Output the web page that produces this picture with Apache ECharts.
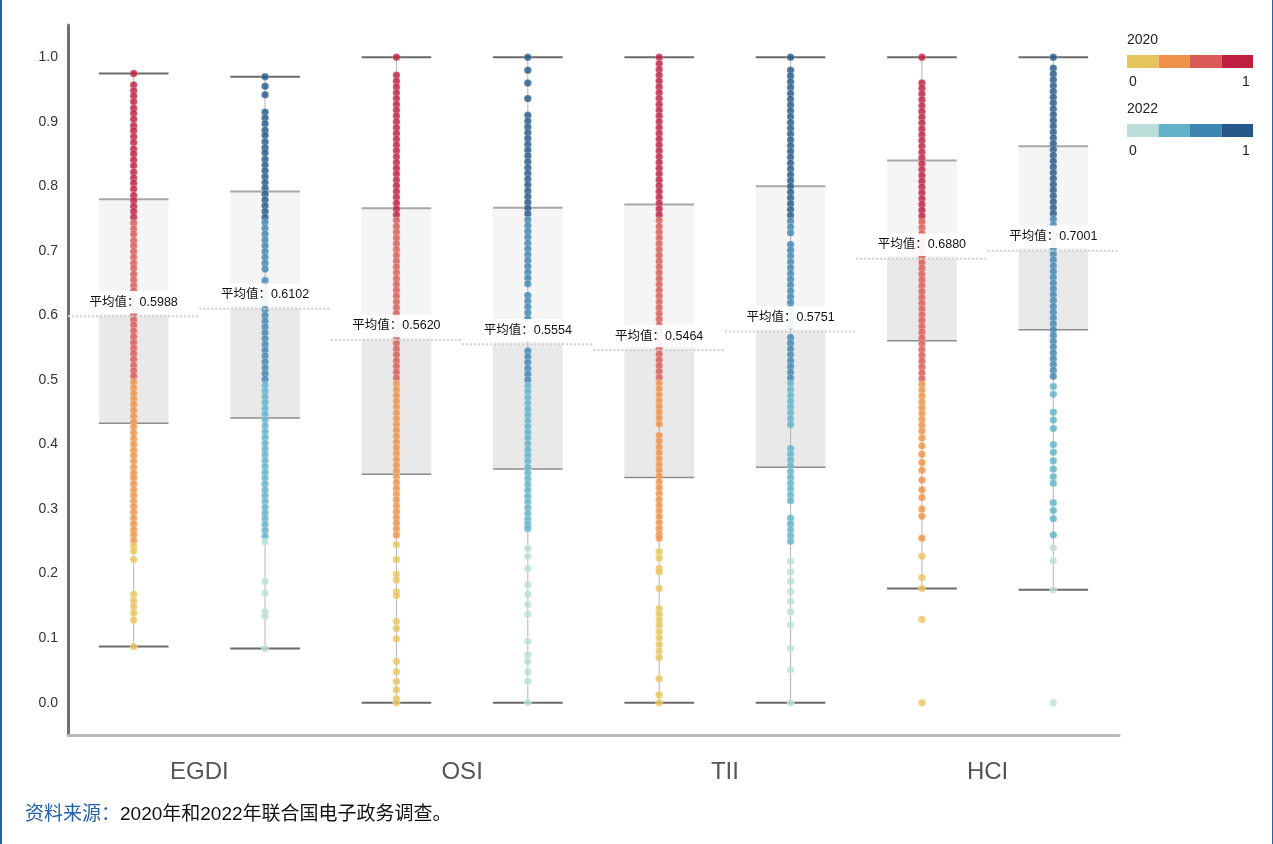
<!DOCTYPE html>
<html>
<head>
<meta charset="utf-8">
<script src="https://cdn.jsdelivr.net/npm/echarts@6/dist/echarts.min.js"></script>
<style>
  html, body { margin: 0; padding: 0; background: #fff; }
  #chart { width: 1273px; height: 844px; box-sizing: border-box; border-left: 2px solid #2b5fa6; border-right: 1px solid #2b5fa6; }
</style>
</head>
<body>
<div id="chart"></div>
<script>
// Index groups and survey years
const groupNames = ['EGDI', 'OSI', 'TII', 'HCI'];
const years = ['2020', '2022'];

// Box statistics per slot (EGDI-2020, EGDI-2022, OSI-2020, OSI-2022, TII-2020, TII-2022, HCI-2020, HCI-2022)
const whiskerLow  = [0.087, 0.084, 0.000, 0.000, 0.000, 0.000, 0.177, 0.175];
const quartile1   = [0.433, 0.441, 0.354, 0.362, 0.349, 0.365, 0.561, 0.578];
const quartile3   = [0.780, 0.792, 0.766, 0.767, 0.772, 0.800, 0.840, 0.862];
const whiskerHigh = [0.975, 0.970, 1.000, 1.000, 1.000, 1.000, 1.000, 1.000];
const meanValues  = [0.5988, 0.6102, 0.5620, 0.5554, 0.5464, 0.5751, 0.6880, 0.7001];

// Country scores per index and year
const egdi2020 = [0.975,0.957,0.948,0.94,0.931,0.921,0.913,0.904,0.894,0.886,0.877,0.868,0.858,0.85,0.841,0.832,0.822,0.813,0.805,0.796,0.786,0.778,0.769,0.761,0.752,0.743,0.734,0.726,0.716,0.708,0.699,0.69,0.681,0.673,0.664,0.655,0.646,0.638,0.628,0.62,0.611,0.602,0.593,0.585,0.576,0.567,0.558,0.549,0.541,0.532,0.523,0.514,0.506,0.497,0.488,0.479,0.47,0.462,0.453,0.444,0.435,0.427,0.418,0.409,0.4,0.391,0.383,0.374,0.365,0.356,0.348,0.339,0.33,0.321,0.312,0.304,0.295,0.286,0.277,0.268,0.26,0.251,0.243,0.235,0.222,0.168,0.158,0.149,0.139,0.128,0.087];
const egdi2022 = [0.97,0.955,0.942,0.915,0.906,0.897,0.887,0.879,0.869,0.86,0.852,0.842,0.833,0.824,0.815,0.806,0.797,0.788,0.779,0.77,0.761,0.752,0.744,0.735,0.726,0.717,0.708,0.699,0.69,0.681,0.672,0.654,0.645,0.636,0.627,0.618,0.609,0.6,0.591,0.582,0.573,0.564,0.555,0.546,0.537,0.528,0.519,0.51,0.501,0.492,0.483,0.474,0.465,0.456,0.447,0.438,0.429,0.42,0.411,0.402,0.393,0.384,0.375,0.366,0.357,0.348,0.339,0.33,0.321,0.312,0.303,0.294,0.285,0.276,0.267,0.258,0.249,0.188,0.17,0.141,0.134,0.084];
const osi2020 = [1.0,0.972,0.963,0.954,0.945,0.936,0.927,0.918,0.909,0.9,0.891,0.882,0.873,0.864,0.855,0.846,0.837,0.828,0.819,0.81,0.801,0.792,0.783,0.774,0.765,0.756,0.747,0.738,0.729,0.72,0.711,0.702,0.693,0.684,0.675,0.666,0.657,0.648,0.639,0.63,0.621,0.612,0.603,0.594,0.585,0.576,0.567,0.557,0.548,0.539,0.53,0.521,0.512,0.503,0.494,0.485,0.476,0.467,0.458,0.449,0.44,0.431,0.422,0.413,0.404,0.395,0.386,0.377,0.368,0.359,0.35,0.341,0.332,0.323,0.314,0.305,0.296,0.287,0.278,0.269,0.26,0.245,0.222,0.199,0.19,0.172,0.166,0.126,0.115,0.099,0.064,0.048,0.033,0.02,0.006,0.0];
const osi2022 = [1.0,0.98,0.96,0.936,0.91,0.901,0.892,0.883,0.874,0.865,0.856,0.847,0.838,0.829,0.82,0.811,0.802,0.793,0.784,0.775,0.766,0.757,0.748,0.739,0.73,0.721,0.712,0.703,0.694,0.685,0.676,0.667,0.658,0.649,0.631,0.622,0.613,0.604,0.595,0.545,0.536,0.527,0.518,0.509,0.5,0.491,0.482,0.473,0.464,0.455,0.446,0.437,0.428,0.419,0.41,0.401,0.392,0.383,0.374,0.365,0.356,0.347,0.338,0.329,0.32,0.311,0.302,0.293,0.284,0.276,0.27,0.239,0.227,0.208,0.183,0.168,0.152,0.137,0.095,0.074,0.064,0.048,0.033,0.0];
const tii2020 = [1.0,0.99,0.981,0.972,0.963,0.954,0.945,0.936,0.927,0.918,0.909,0.9,0.891,0.882,0.873,0.864,0.855,0.846,0.837,0.828,0.819,0.81,0.801,0.792,0.783,0.774,0.765,0.756,0.747,0.738,0.729,0.72,0.711,0.702,0.693,0.684,0.675,0.666,0.657,0.648,0.639,0.63,0.621,0.612,0.603,0.594,0.585,0.576,0.567,0.558,0.549,0.54,0.531,0.522,0.513,0.504,0.495,0.486,0.477,0.468,0.459,0.45,0.441,0.432,0.414,0.405,0.396,0.387,0.378,0.369,0.36,0.351,0.342,0.333,0.324,0.315,0.306,0.297,0.288,0.279,0.27,0.261,0.255,0.234,0.224,0.208,0.203,0.177,0.146,0.137,0.128,0.12,0.11,0.1,0.09,0.08,0.07,0.037,0.012,0.0];
const tii2022 = [1.0,0.98,0.971,0.962,0.953,0.944,0.935,0.926,0.917,0.908,0.899,0.89,0.881,0.872,0.863,0.854,0.845,0.836,0.827,0.818,0.809,0.8,0.791,0.782,0.773,0.764,0.755,0.746,0.737,0.728,0.71,0.701,0.692,0.683,0.674,0.665,0.656,0.647,0.638,0.629,0.62,0.611,0.602,0.593,0.584,0.566,0.557,0.548,0.539,0.53,0.521,0.512,0.503,0.494,0.485,0.476,0.467,0.458,0.449,0.44,0.431,0.394,0.385,0.376,0.367,0.358,0.349,0.34,0.331,0.322,0.313,0.286,0.277,0.268,0.259,0.25,0.219,0.203,0.188,0.172,0.157,0.141,0.121,0.084,0.051,0.0];
const hci2020 = [1.0,0.96,0.952,0.943,0.934,0.925,0.916,0.907,0.898,0.889,0.88,0.871,0.862,0.853,0.844,0.835,0.826,0.817,0.808,0.799,0.79,0.781,0.772,0.763,0.754,0.745,0.736,0.727,0.718,0.709,0.7,0.691,0.682,0.673,0.664,0.655,0.646,0.637,0.628,0.619,0.61,0.601,0.592,0.583,0.574,0.565,0.556,0.547,0.538,0.529,0.52,0.511,0.502,0.493,0.484,0.475,0.466,0.457,0.448,0.439,0.43,0.421,0.41,0.398,0.385,0.372,0.36,0.345,0.33,0.318,0.3,0.289,0.255,0.227,0.194,0.177,0.129,0.0];
const hci2022 = [1.0,0.983,0.974,0.965,0.956,0.947,0.938,0.929,0.92,0.911,0.902,0.893,0.884,0.875,0.866,0.857,0.848,0.839,0.83,0.821,0.812,0.803,0.794,0.785,0.776,0.767,0.758,0.749,0.74,0.731,0.722,0.713,0.704,0.695,0.686,0.677,0.668,0.659,0.65,0.641,0.632,0.623,0.614,0.605,0.596,0.587,0.578,0.569,0.56,0.551,0.542,0.533,0.524,0.515,0.506,0.49,0.478,0.45,0.438,0.425,0.4,0.388,0.375,0.362,0.35,0.34,0.31,0.298,0.285,0.26,0.24,0.22,0.175,0.0];

// Colour scales for the two years
const colors2020 = ['#e6c45c', '#ee9348', '#d95a57', '#bf1f3f'];
const colors2022 = ['#bcded8', '#62b2c9', '#3e85b2', '#255889'];

const scores2020 = [egdi2020, osi2020, tii2020, hci2020];
const scores2022 = [egdi2022, osi2022, tii2022, hci2022];

const slotNames = [];
groupNames.forEach(g => years.forEach(y => slotNames.push(g + ' ' + y)));

const boxData = slotNames.map((_, i) => [i, whiskerLow[i], quartile1[i], meanValues[i], quartile3[i], whiskerHigh[i]]);
const meanData = slotNames.map((_, i) => [i, meanValues[i]]);

function toPoints(list, yearIndex) {
  const pts = [];
  list.forEach((vals, g) => vals.forEach(v => pts.push([g * 2 + yearIndex, v])));
  return pts;
}

function pieces(colors) {
  return [
    { gte: 0, lt: 0.25, color: colors[0] },
    { gte: 0.25, lt: 0.5, color: colors[1] },
    { gte: 0.5, lt: 0.75, color: colors[2] },
    { gte: 0.75, lte: 1, color: colors[3] }
  ];
}

const FONT = '"Liberation Sans", "Noto Sans CJK SC", sans-serif';

function renderBox(params, api) {
  const slot = api.value(0);
  const lo = api.value(1), q1 = api.value(2), mean = api.value(3), q3 = api.value(4), hi = api.value(5);
  const w = api.size([1, 0])[0] * 0.53;
  const pHi = api.coord([slot, hi]);
  const pLo = api.coord([slot, lo]);
  const pQ3 = api.coord([slot, q3]);
  const pQ1 = api.coord([slot, q1]);
  const pM = api.coord([slot, mean]);
  const x = pHi[0];
  return {
    type: 'group',
    children: [
      { type: 'rect', shape: { x: x - w / 2, y: pQ3[1], width: w, height: pM[1] - pQ3[1] }, style: { fill: '#f5f5f5' } },
      { type: 'rect', shape: { x: x - w / 2, y: pM[1], width: w, height: pQ1[1] - pM[1] }, style: { fill: '#e9e9e9' } },
      { type: 'line', shape: { x1: x, y1: pHi[1], x2: x, y2: pLo[1] }, style: { stroke: '#b4b4b4', lineWidth: 1 } },
      { type: 'line', shape: { x1: x - w / 2, y1: pQ3[1], x2: x + w / 2, y2: pQ3[1] }, style: { stroke: '#a8a8a8', lineWidth: 2 } },
      { type: 'line', shape: { x1: x - w / 2, y1: pQ1[1], x2: x + w / 2, y2: pQ1[1] }, style: { stroke: '#8c8c8c', lineWidth: 1.5 } },
      { type: 'line', shape: { x1: x - w / 2, y1: pHi[1], x2: x + w / 2, y2: pHi[1] }, style: { stroke: '#6a6a6a', lineWidth: 2 } },
      { type: 'line', shape: { x1: x - w / 2, y1: pLo[1], x2: x + w / 2, y2: pLo[1] }, style: { stroke: '#6a6a6a', lineWidth: 2 } }
    ]
  };
}

function renderMean(params, api) {
  const slot = api.value(0);
  const mean = api.value(1);
  const slotW = api.size([1, 0])[0];
  const p = api.coord([slot, mean]);
  return {
    type: 'group',
    children: [
      { type: 'line', shape: { x1: p[0] - slotW / 2, y1: p[1], x2: p[0] + slotW / 2, y2: p[1] },
        style: { stroke: '#cfcfcf', lineWidth: 2, lineDash: [2, 2] } },
      { type: 'text', x: p[0], y: p[1] - 14,
        style: { text: '平均值：' + mean.toFixed(4), align: 'center', verticalAlign: 'middle',
                 fill: '#111', font: '12.5px ' + FONT,
                 backgroundColor: 'rgba(255,255,255,0.92)', padding: [5, 4] } }
    ]
  };
}

const chart = echarts.init(document.getElementById('chart'));

chart.setOption({
  animation: false,
  textStyle: { fontFamily: FONT },
  grid: { left: 66, right: 153, top: 25, bottom: 109 },
  title: {
    left: 23, top: 805, padding: 0,
    text: '{a|资料来源：}{b|2020年和2022年联合国电子政务调查。}',
    textStyle: { fontWeight: 'normal', rich: {
      a: { color: '#2460a7', fontSize: 19, fontWeight: 'normal', fontFamily: FONT },
      b: { color: '#111', fontSize: 19, fontWeight: 'normal', fontFamily: FONT }
    } }
  },
  xAxis: [
    { type: 'category', data: slotNames, boundaryGap: true,
      axisLine: { show: true, onZero: false, lineStyle: { color: '#b9b9b9', width: 3 } },
      axisTick: { show: false }, axisLabel: { show: false }, splitLine: { show: false } },
    { type: 'category', data: groupNames, position: 'bottom', boundaryGap: true,
      axisLine: { show: false, onZero: false }, axisTick: { show: false }, splitLine: { show: false },
      axisLabel: { color: '#555', fontSize: 24, margin: 25, fontFamily: FONT } }
  ],
  yAxis: {
    type: 'value', min: -0.05, max: 1.05, interval: 0.05,
    axisLine: { show: true, lineStyle: { color: '#707070', width: 3 } },
    axisTick: { show: false }, splitLine: { show: false },
    axisLabel: {
      margin: 10, color: '#333', fontSize: 14,
      formatter: v => {
        const k = Math.round(v * 100);
        return (k >= 0 && k <= 100 && k % 10 === 0) ? (k / 100).toFixed(1) : '';
      }
    }
  },
  visualMap: [
    { type: 'piecewise', seriesIndex: 1, dimension: 1, orient: 'horizontal',
      left: 1125, top: 55, padding: 0, itemWidth: 31.5, itemHeight: 13, itemGap: 0,
      itemSymbol: 'rect', showLabel: false, selectedMode: false, hoverLink: false,
      pieces: pieces(colors2020) },
    { type: 'piecewise', seriesIndex: 2, dimension: 1, orient: 'horizontal',
      left: 1125, top: 124, padding: 0, itemWidth: 31.5, itemHeight: 13, itemGap: 0,
      itemSymbol: 'rect', showLabel: false, selectedMode: false, hoverLink: false,
      pieces: pieces(colors2022) }
  ],
  graphic: [
    { type: 'text', left: 1125, top: 33, style: { text: '2020', fill: '#222', font: '14px ' + FONT } },
    { type: 'text', left: 1127, top: 75, style: { text: '0', fill: '#222', font: '14px ' + FONT } },
    { type: 'text', left: 1240, top: 75, style: { text: '1', fill: '#222', font: '14px ' + FONT } },
    { type: 'text', left: 1125, top: 102, style: { text: '2022', fill: '#222', font: '14px ' + FONT } },
    { type: 'text', left: 1127, top: 144, style: { text: '0', fill: '#222', font: '14px ' + FONT } },
    { type: 'text', left: 1240, top: 144, style: { text: '1', fill: '#222', font: '14px ' + FONT } }
  ],
  series: [
    { type: 'custom', name: 'box', renderItem: renderBox, data: boxData, z: 1,
      encode: { x: 0, y: [1, 2, 3, 4, 5] }, silent: true },
    { type: 'scatter', name: '2020', data: toPoints(scores2020, 0), symbolSize: 7.5, z: 3,
      itemStyle: { opacity: 0.82, borderColor: 'rgba(255,255,255,0.45)', borderWidth: 0.8 } },
    { type: 'scatter', name: '2022', data: toPoints(scores2022, 1), symbolSize: 7.5, z: 3,
      itemStyle: { opacity: 0.82, borderColor: 'rgba(255,255,255,0.45)', borderWidth: 0.8 } },
    { type: 'custom', name: 'mean', renderItem: renderMean, data: meanData, z: 5,
      encode: { x: 0, y: 1 }, silent: true }
  ]
});
</script>
</body>
</html>
